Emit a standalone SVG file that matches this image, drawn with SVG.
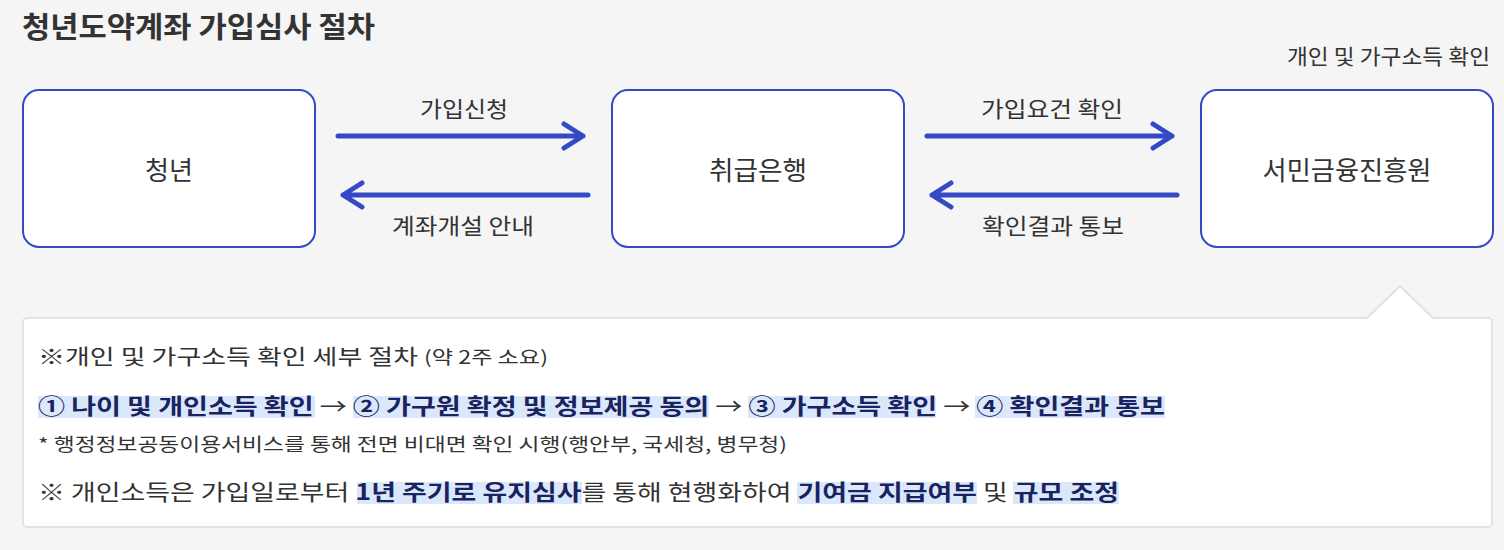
<svg xmlns="http://www.w3.org/2000/svg" width="1504" height="550" viewBox="0 0 1504 550">
<style>
text{font-family:"Noto Sans CJK KR","Noto Sans",sans-serif;fill:#333}
.node{fill:#fff;stroke:#3449c6;stroke-width:2}
.nt{font-size:26px;text-anchor:middle}
.lbl{font-size:22px;text-anchor:middle}
.arr{stroke:#3449c6;stroke-width:5;fill:none;stroke-linecap:round;stroke-linejoin:round}
.hl{fill:#dbe8fb}
.b{font-weight:bold;fill:#1a2360}
</style>
<rect width="1504" height="550" fill="#f5f5f5"/>
<text x="22" y="38" font-size="29" font-weight="bold" textLength="353" lengthAdjust="spacingAndGlyphs">청년도약계좌 가입심사 절차</text>
<text x="1490" y="64" font-size="21" text-anchor="end" textLength="203" lengthAdjust="spacingAndGlyphs">개인 및 가구소득 확인</text>
<g id="n1"><rect class="node" x="23" y="90" width="292" height="157" rx="16"/><text class="nt" x="169" y="180" textLength="48" lengthAdjust="spacingAndGlyphs">청년</text></g>
<g id="n2"><rect class="node" x="612" y="90" width="292" height="157" rx="16"/><text class="nt" x="758" y="180" textLength="98" lengthAdjust="spacingAndGlyphs">취급은행</text></g>
<g id="n3"><rect class="node" x="1201" y="90" width="292" height="157" rx="16"/><text class="nt" x="1347" y="180" textLength="169" lengthAdjust="spacingAndGlyphs">서민금융진흥원</text></g>
<g id="connectors">
<path class="arr" d="M338 136H583M564 124L583 136L564 148"/>
<path class="arr" d="M588 195H343M362 183L343 195L362 207"/>
<path class="arr" d="M927 136H1172M1153 124L1172 136L1153 148"/>
<path class="arr" d="M1177 195H932M951 183L932 195L951 207"/>
<text class="lbl" x="464" y="117" textLength="88" lengthAdjust="spacingAndGlyphs">가입신청</text>
<text class="lbl" x="463" y="234" textLength="142" lengthAdjust="spacingAndGlyphs">계좌개설 안내</text>
<text class="lbl" x="1052" y="117" textLength="142" lengthAdjust="spacingAndGlyphs">가입요건 확인</text>
<text class="lbl" x="1053" y="234" textLength="142" lengthAdjust="spacingAndGlyphs">확인결과 통보</text>
</g>
<g id="callout">
<rect x="23" y="318" width="1469" height="209" rx="4" fill="#fff" stroke="#e3e3e3" stroke-width="2"/>
<path d="M1366 319L1400 286L1434 319" fill="#fff" stroke="#e3e3e3" stroke-width="2"/>
<rect x="1368" y="318" width="64" height="3" fill="#fff"/>
<text x="38" y="364" font-size="21" textLength="510" lengthAdjust="spacingAndGlyphs">※개인 및 가구소득 확인 세부 절차 <tspan font-size="18">(약 2주 소요)</tspan></text>
<rect class="hl" x="38" y="396" width="277" height="22"/>
<rect class="hl" x="353" y="396" width="356" height="22"/>
<rect class="hl" x="748" y="396" width="188" height="22"/>
<rect class="hl" x="975" y="396" width="190" height="22"/>
<text x="38" y="414" font-size="22" textLength="1127" lengthAdjust="spacingAndGlyphs"><tspan class="b">① 나이 및 개인소득 확인</tspan> → <tspan class="b">② 가구원 확정 및 정보제공 동의</tspan> → <tspan class="b">③ 가구소득 확인</tspan> → <tspan class="b">④ 확인결과 통보</tspan></text>
<text x="38" y="451" font-size="18" textLength="749" lengthAdjust="spacingAndGlyphs">* 행정정보공동이용서비스를 통해 전면 비대면 확인 시행(행안부, 국세청, 병무청)</text>
<rect class="hl" x="357" y="482" width="225" height="22"/>
<rect class="hl" x="797" y="482" width="180" height="22"/>
<rect class="hl" x="1013" y="482" width="106" height="22"/>
<text x="38" y="500" font-size="22" textLength="1081" lengthAdjust="spacingAndGlyphs">※ 개인소득은 가입일로부터 <tspan class="b">1년 주기로 유지심사</tspan>를 통해 현행화하여 <tspan class="b">기여금 지급여부</tspan> 및 <tspan class="b">규모 조정</tspan></text>
</g>
</svg>
